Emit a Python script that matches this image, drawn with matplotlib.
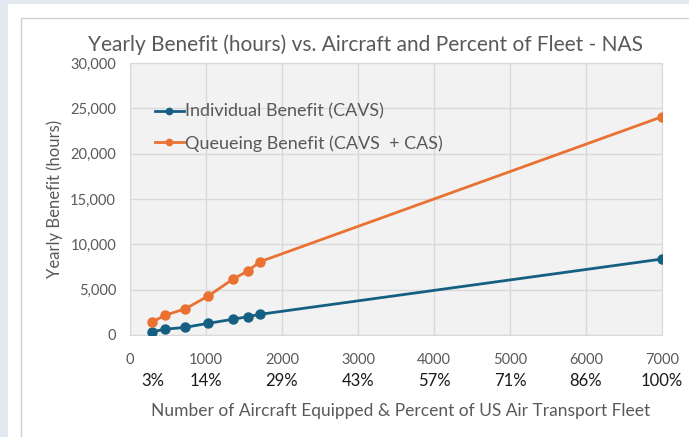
#!/usr/bin/env python3
"""Yearly benefit vs. aircraft equipped (NAS)."""

import matplotlib

matplotlib.use("Agg")
import matplotlib.pyplot as plt
from matplotlib.patches import Rectangle
from matplotlib.ticker import FuncFormatter

# data
aircraft = [290, 460, 730, 1030, 1350, 1550, 1710, 7000]
individual = [360, 630, 850, 1290, 1730, 2020, 2280, 8380]
queueing = [1430, 2170, 2900, 4300, 6140, 7060, 8080, 24070]

pct_pos = [300, 1000, 2000, 3000, 4000, 5000, 6000, 7000]
pct_labels = ["3%", "14%", "29%", "43%", "57%", "71%", "86%", "100%"]

BLUE = "#156082"
ORANGE = "#E97132"
GRAY = "#595959"

plt.rcParams["font.family"] = ["Lato", "DejaVu Sans"]

W, H = 689, 437
fig = plt.figure(figsize=(W / 100, H / 100), dpi=100)
fig.patch.set_facecolor("#e2e9f0")
fig.patches.append(Rectangle((8 / W, 0), 1, 1 - 4 / H, transform=fig.transFigure,
                             facecolor="white", edgecolor="none", zorder=-2))
fig.patches.append(Rectangle((21 / W, -0.1), 1, 1.1 - 18 / H, transform=fig.transFigure,
                             facecolor="white", edgecolor="#d0d0d0", linewidth=1, zorder=-1))

ax = fig.add_axes([130 / W, 1 - 335 / H, (662 - 130) / W, (335 - 63) / H])
ax.set_facecolor("#f2f2f2")
for spine in ax.spines.values():
    spine.set_color("#d9d9d9")

ax.plot(aircraft, individual, color=BLUE, lw=2, marker="o", ms=6.5,
        label="Individual Benefit (CAVS)", zorder=3)
ax.plot(aircraft, queueing, color=ORANGE, lw=2, marker="o", ms=6.5,
        label="Queueing Benefit (CAVS  + CAS)", zorder=3)

ax.set_xlim(0, 7000)
ax.set_ylim(0, 30000)
ax.set_xticks(range(0, 7001, 1000))
ax.set_yticks(range(0, 30001, 5000))
ax.yaxis.set_major_formatter(FuncFormatter(lambda v, _: f"{int(v):,}"))
ax.grid(True, color="#d9d9d9", lw=1)
ax.set_axisbelow(True)
ax.tick_params(length=0, labelsize=10.5, labelcolor=GRAY, pad=13)
ax.tick_params(axis="y", pad=10)

for x, lab in zip(pct_pos, pct_labels):
    ax.text(x, -0.17, lab, transform=ax.get_xaxis_transform(), ha="center",
            va="center", fontsize=12, color="#1a1a1a")

ax.set_ylabel("Yearly Benefit (hours)", fontsize=12, color=GRAY, labelpad=5)
fig.text(0.582, 1 - 411 / H, "Number of Aircraft Equipped & Percent of US Air Transport Fleet",
         ha="center", va="center", fontsize=12.5, color=GRAY)
fig.text(0.53, 1 - 45 / H, "Yearly Benefit (hours) vs. Aircraft and Percent of Fleet - NAS",
         ha="center", va="center", fontsize=15, color=GRAY)

ax.legend(loc="upper left", bbox_to_anchor=(0.016, 0.91), frameon=False, fontsize=13,
          labelcolor=GRAY, handlelength=1.6, handletextpad=0.1, labelspacing=0.85,
          markerscale=0.7)

fig.savefig("out.png", dpi=100)
